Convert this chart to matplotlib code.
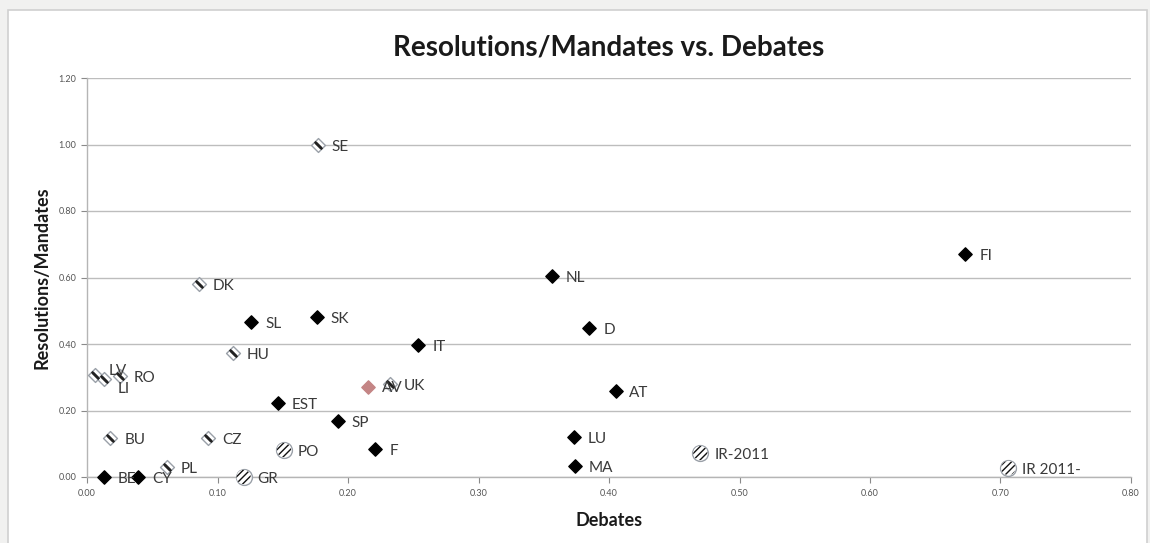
import matplotlib.pyplot as plt
from matplotlib.patches import Rectangle

# Data
countries = ["SE", "FI", "NL", "DK", "SL", "SK", "D", "IT", "HU",
             "LV", "LI", "RO", "AV", "UK", "EST", "SP", "AT", "LU",
             "MA", "IR-2011", "IR 2011-", "BU", "CZ", "PO", "F", "PL",
             "BE", "CY", "GR"]
debates = [0.177, 0.673, 0.356, 0.086, 0.126, 0.176, 0.385, 0.254, 0.112,
           0.006, 0.013, 0.025, 0.215, 0.232, 0.146, 0.192, 0.405, 0.373,
           0.374, 0.470, 0.706, 0.018, 0.093, 0.151, 0.221, 0.061,
           0.013, 0.039, 0.120]
resolutions = [1.00, 0.67, 0.605, 0.58, 0.465, 0.48, 0.448, 0.397, 0.373,
               0.307, 0.295, 0.305, 0.271, 0.28, 0.223, 0.168, 0.259, 0.12,
               0.033, 0.072, 0.027, 0.117, 0.117, 0.081, 0.084, 0.03,
               0.0, 0.0, 0.0]
groups = ["light", "solid", "solid", "light", "solid", "solid", "solid", "solid", "light",
          "light", "light", "light", "pink", "light", "solid", "solid", "solid", "solid",
          "solid", "circle", "circle", "light", "light", "circle", "solid", "light",
          "solid", "solid", "circle"]

x_ticks = [0.0, 0.1, 0.2, 0.3, 0.4, 0.5, 0.6, 0.7, 0.8]
y_ticks = [0.0, 0.2, 0.4, 0.6, 0.8, 1.0, 1.2]

# small nudges for crowded labels (points)
label_dy = {"LV": 4, "LI": -6, "AV": 0.5}

plt.rcParams['font.family'] = ['Lato', 'DejaVu Sans']

fig = plt.figure(figsize=(11.5, 5.43), dpi=100)
fig.patch.set_facecolor("#f1f1f0")
W, H = 1150, 543
panel = Rectangle((8 / W, -0.01), (1147 - 8) / W, 1 - 10 / H + 0.01,
                  transform=fig.transFigure, facecolor="white",
                  edgecolor="#d0d0d0", linewidth=1.2, zorder=-10)
fig.patches.append(panel)

ax = fig.add_axes([87 / W, 1 - 477 / H, (1131 - 87) / W, (477 - 78) / H])
ax.set_zorder(5)
ax.set_facecolor("white")
ax.set_xlim(0, 0.8)
ax.set_ylim(0, 1.2)
ax.set_xticks(x_ticks)
ax.set_yticks(y_ticks)
ax.set_xticklabels([f"{t:.2f}" for t in x_ticks])
ax.set_yticklabels([f"{t:.2f}" for t in y_ticks])
ax.tick_params(axis="both", labelsize=6.5, colors="#8a8a8a", labelcolor="#555555",
               length=4, width=0.8)
ax.tick_params(axis="x", pad=5)
ax.grid(axis="y", color="#bdbdbd", linewidth=1)
ax.set_axisbelow(True)
for s in ["top", "right"]:
    ax.spines[s].set_visible(False)
for s in ["left", "bottom"]:
    ax.spines[s].set_color("#b5b5b5")
    ax.spines[s].set_linewidth(1)

def pick(g):
    idx = [i for i, k in enumerate(groups) if k == g]
    return [debates[i] for i in idx], [resolutions[i] for i in idx]

# black diamonds
xs, ys = pick("solid")
ax.scatter(xs, ys, marker="D", s=46, color="black", zorder=3, clip_on=False)

# pink diamond
xs, ys = pick("pink")
ax.scatter(xs, ys, marker="D", s=46, color="#c48585", zorder=3, clip_on=False)

# light hatched diamonds
xs, ys = pick("light")
ax.scatter(xs, ys, marker="D", s=50, facecolor="white", edgecolor="#9aa0a8",
           linewidth=1.0, zorder=3, clip_on=False)
ax.scatter(xs, ys, marker=(2, 2, 45), s=32, color="#222222", linewidth=1.8,
           zorder=4, clip_on=False)

# hatched circles
xs, ys = pick("circle")
ax.scatter(xs, ys, marker="o", s=130, facecolor="white", edgecolor="#9aa0a8",
           linewidth=1.0, zorder=3, clip_on=False)
ax.scatter(xs, ys, marker="o", s=105, facecolor="white", edgecolor="#111111",
           hatch="/////", linewidth=0, zorder=4, clip_on=False)

for name, x, y in zip(countries, debates, resolutions):
    ax.annotate(name, (x, y), xytext=(10, -1.5 + label_dy.get(name, 0)),
                textcoords="offset points", fontsize=11, color="#3a3a3a",
                va="center", ha="left", zorder=5, annotation_clip=False)

ax.set_title("Resolutions/Mandates vs. Debates", fontsize=20, fontweight="bold",
             color="#1a1a1a", pad=16)
ax.set_xlabel("Debates", fontsize=13, fontweight="bold", color="#1a1a1a", labelpad=10)
ax.set_ylabel("Resolutions/Mandates", fontsize=13, fontweight="bold", color="#1a1a1a",
              labelpad=6)

fig.savefig("out.png", dpi=100)
